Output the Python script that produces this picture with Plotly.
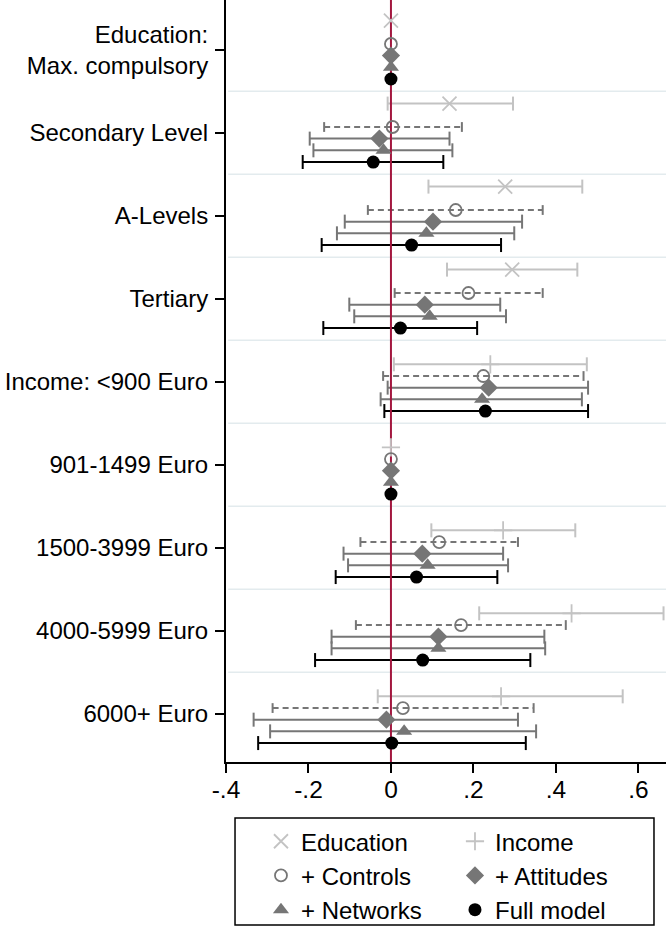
import plotly.graph_objects as go

# categories top to bottom
categories = ["Education:<br>Max. compulsory", "Secondary Level", "A-Levels", "Tertiary",
              "Income: <900 Euro", "901-1499 Euro", "1500-3999 Euro", "4000-5999 Euro", "6000+ Euro"]

# coefficients and 95% CIs, None = not in model / reference category
edu_b  = [0, 0.142, 0.277, 0.294, None, None, None, None, None]
edu_lo = [None, -0.008, 0.091, 0.136, None, None, None, None, None]
edu_hi = [None, 0.296, 0.464, 0.452, None, None, None, None, None]

inc_b  = [None, None, None, None, 0.241, 0, 0.272, 0.438, 0.267]
inc_lo = [None, None, None, None, 0.007, None, 0.098, 0.214, -0.032]
inc_hi = [None, None, None, None, 0.475, None, 0.447, 0.661, 0.562]

ctl_b  = [0, 0.004, 0.157, 0.188, 0.224, 0, 0.117, 0.170, 0.029]
ctl_lo = [None, -0.162, -0.056, 0.009, -0.019, None, -0.074, -0.085, -0.287]
ctl_hi = [None, 0.172, 0.368, 0.368, 0.467, None, 0.308, 0.424, 0.346]

att_b  = [0, -0.028, 0.102, 0.082, 0.237, 0, 0.076, 0.115, -0.011]
att_lo = [None, -0.197, -0.112, -0.101, -0.008, None, -0.115, -0.144, -0.333]
att_hi = [None, 0.142, 0.318, 0.265, 0.478, None, 0.272, 0.372, 0.308]

net_b  = [0, -0.018, 0.086, 0.094, 0.221, 0, 0.089, 0.115, 0.032]
net_lo = [None, -0.188, -0.131, -0.089, -0.025, None, -0.104, -0.144, -0.293]
net_hi = [None, 0.149, 0.299, 0.279, 0.463, None, 0.284, 0.374, 0.352]

full_b  = [0, -0.043, 0.050, 0.023, 0.229, 0, 0.062, 0.077, 0.002]
full_lo = [None, -0.214, -0.168, -0.164, -0.016, None, -0.134, -0.184, -0.322]
full_hi = [None, 0.127, 0.267, 0.209, 0.478, None, 0.258, 0.338, 0.327]

xticks = [-0.4, -0.2, 0, 0.2, 0.4, 0.6]
xtick_labels = ["-.4", "-.2", "0", ".2", ".4", ".6"]

FONT = "Liberation Sans, Arial, sans-serif"
LIGHT = "#c3c3c3"
MID = "#767676"

series = [
    # name, b, lo, hi, offset, color, symbol, size, dash
    ("Education", edu_b, edu_lo, edu_hi, -0.352, LIGHT, "x-thin-open", 14, "solid"),
    ("Income", inc_b, inc_lo, inc_hi, -0.211, LIGHT, "cross-thin-open", 13, "solid"),
    ("+ Controls", ctl_b, ctl_lo, ctl_hi, -0.07, MID, "circle-open", 12, "6px,4px"),
    ("+ Attitudes", att_b, att_lo, att_hi, 0.07, MID, "diamond", 14, "solid"),
    ("+ Networks", net_b, net_lo, net_hi, 0.211, MID, "triangle-up", 14, "solid"),
    ("Full model", full_b, full_lo, full_hi, 0.352, "black", "circle", 13, "solid"),
]

y_lo, y_hi = -0.6, len(categories) - 1 + 0.58

fig = go.Figure()

# confidence intervals
for name, b, lo, hi, off, col, sym, size, dash in series:
    lx, ly, cx, cy = [], [], [], []
    for i in range(len(categories)):
        if lo[i] is None:
            continue
        lx += [lo[i], hi[i], None]
        ly += [i + off, i + off, None]
        cx += [lo[i], hi[i]]
        cy += [i + off, i + off]
    fig.add_trace(go.Scatter(x=lx, y=ly, mode="lines", line=dict(color=col, width=2, dash=dash),
                             showlegend=False, hoverinfo="skip"))
    fig.add_trace(go.Scatter(x=cx, y=cy, mode="markers", showlegend=False, hoverinfo="skip",
                             marker=dict(symbol="line-ns", size=10 if dash == "solid" else 7,
                                         line=dict(color=col, width=2))))

# zero line
fig.add_trace(go.Scatter(x=[0, 0], y=[y_lo, y_hi], mode="lines", line=dict(color="#a3173f", width=2),
                         showlegend=False, hoverinfo="skip"))

# point estimates
for name, b, lo, hi, off, col, sym, size, dash in series:
    xs = [v for v in b if v is not None]
    ys = [i + off for i, v in enumerate(b) if v is not None]
    open_sym = sym.endswith("open")
    fig.add_trace(go.Scatter(
        x=xs, y=ys, mode="markers", name=name,
        marker=dict(symbol=sym, size=size, color=col,
                    line=dict(color=col, width=1.8 if open_sym else 0))))

# category separators
for i in range(len(categories) - 1):
    fig.add_shape(type="line", xref="paper", yref="y", x0=0.005, x1=1, y0=i + 0.5, y1=i + 0.5,
                  line=dict(color="#e3ebee", width=1.5), layer="below")

# legend box
fig.add_shape(type="rect", xref="paper", yref="paper", x0=0.0205, x1=0.9727, y0=-0.2139, y1=-0.0735,
              line=dict(color="black", width=1.5), fillcolor="white", layer="below")

fig.update_layout(
    width=666, height=935,
    margin=dict(l=226, r=0, t=0, b=173, autoexpand=False),
    plot_bgcolor="white", paper_bgcolor="white",
    font=dict(family=FONT, size=24.5, color="black"),
    showlegend=True,
    legend=dict(orientation="h", x=0.0795, xanchor="left", y=-0.075, yanchor="top",
                entrywidth=149, bgcolor="rgba(0,0,0,0)", borderwidth=0,
                font=dict(size=24), itemclick=False),
    xaxis=dict(range=[-0.4, 0.667], tickvals=xticks, ticktext=xtick_labels, showgrid=False,
               zeroline=False, showline=True, linecolor="black", linewidth=2,
               ticks="outside", ticklen=9, tickwidth=2, tickcolor="black", ticklabelstandoff=-4),
    yaxis=dict(range=[y_hi, y_lo], tickvals=list(range(len(categories))), ticktext=categories,
               showgrid=False, zeroline=False, showline=True, linecolor="black", linewidth=2,
               ticks="outside", ticklen=9, tickwidth=2, tickcolor="black", ticklabelstandoff=2,
               tickfont=dict(size=24)),
)

fig.write_html("out.html", config={"displayModeBar": False},
               post_script="document.body.style.margin='0';")
